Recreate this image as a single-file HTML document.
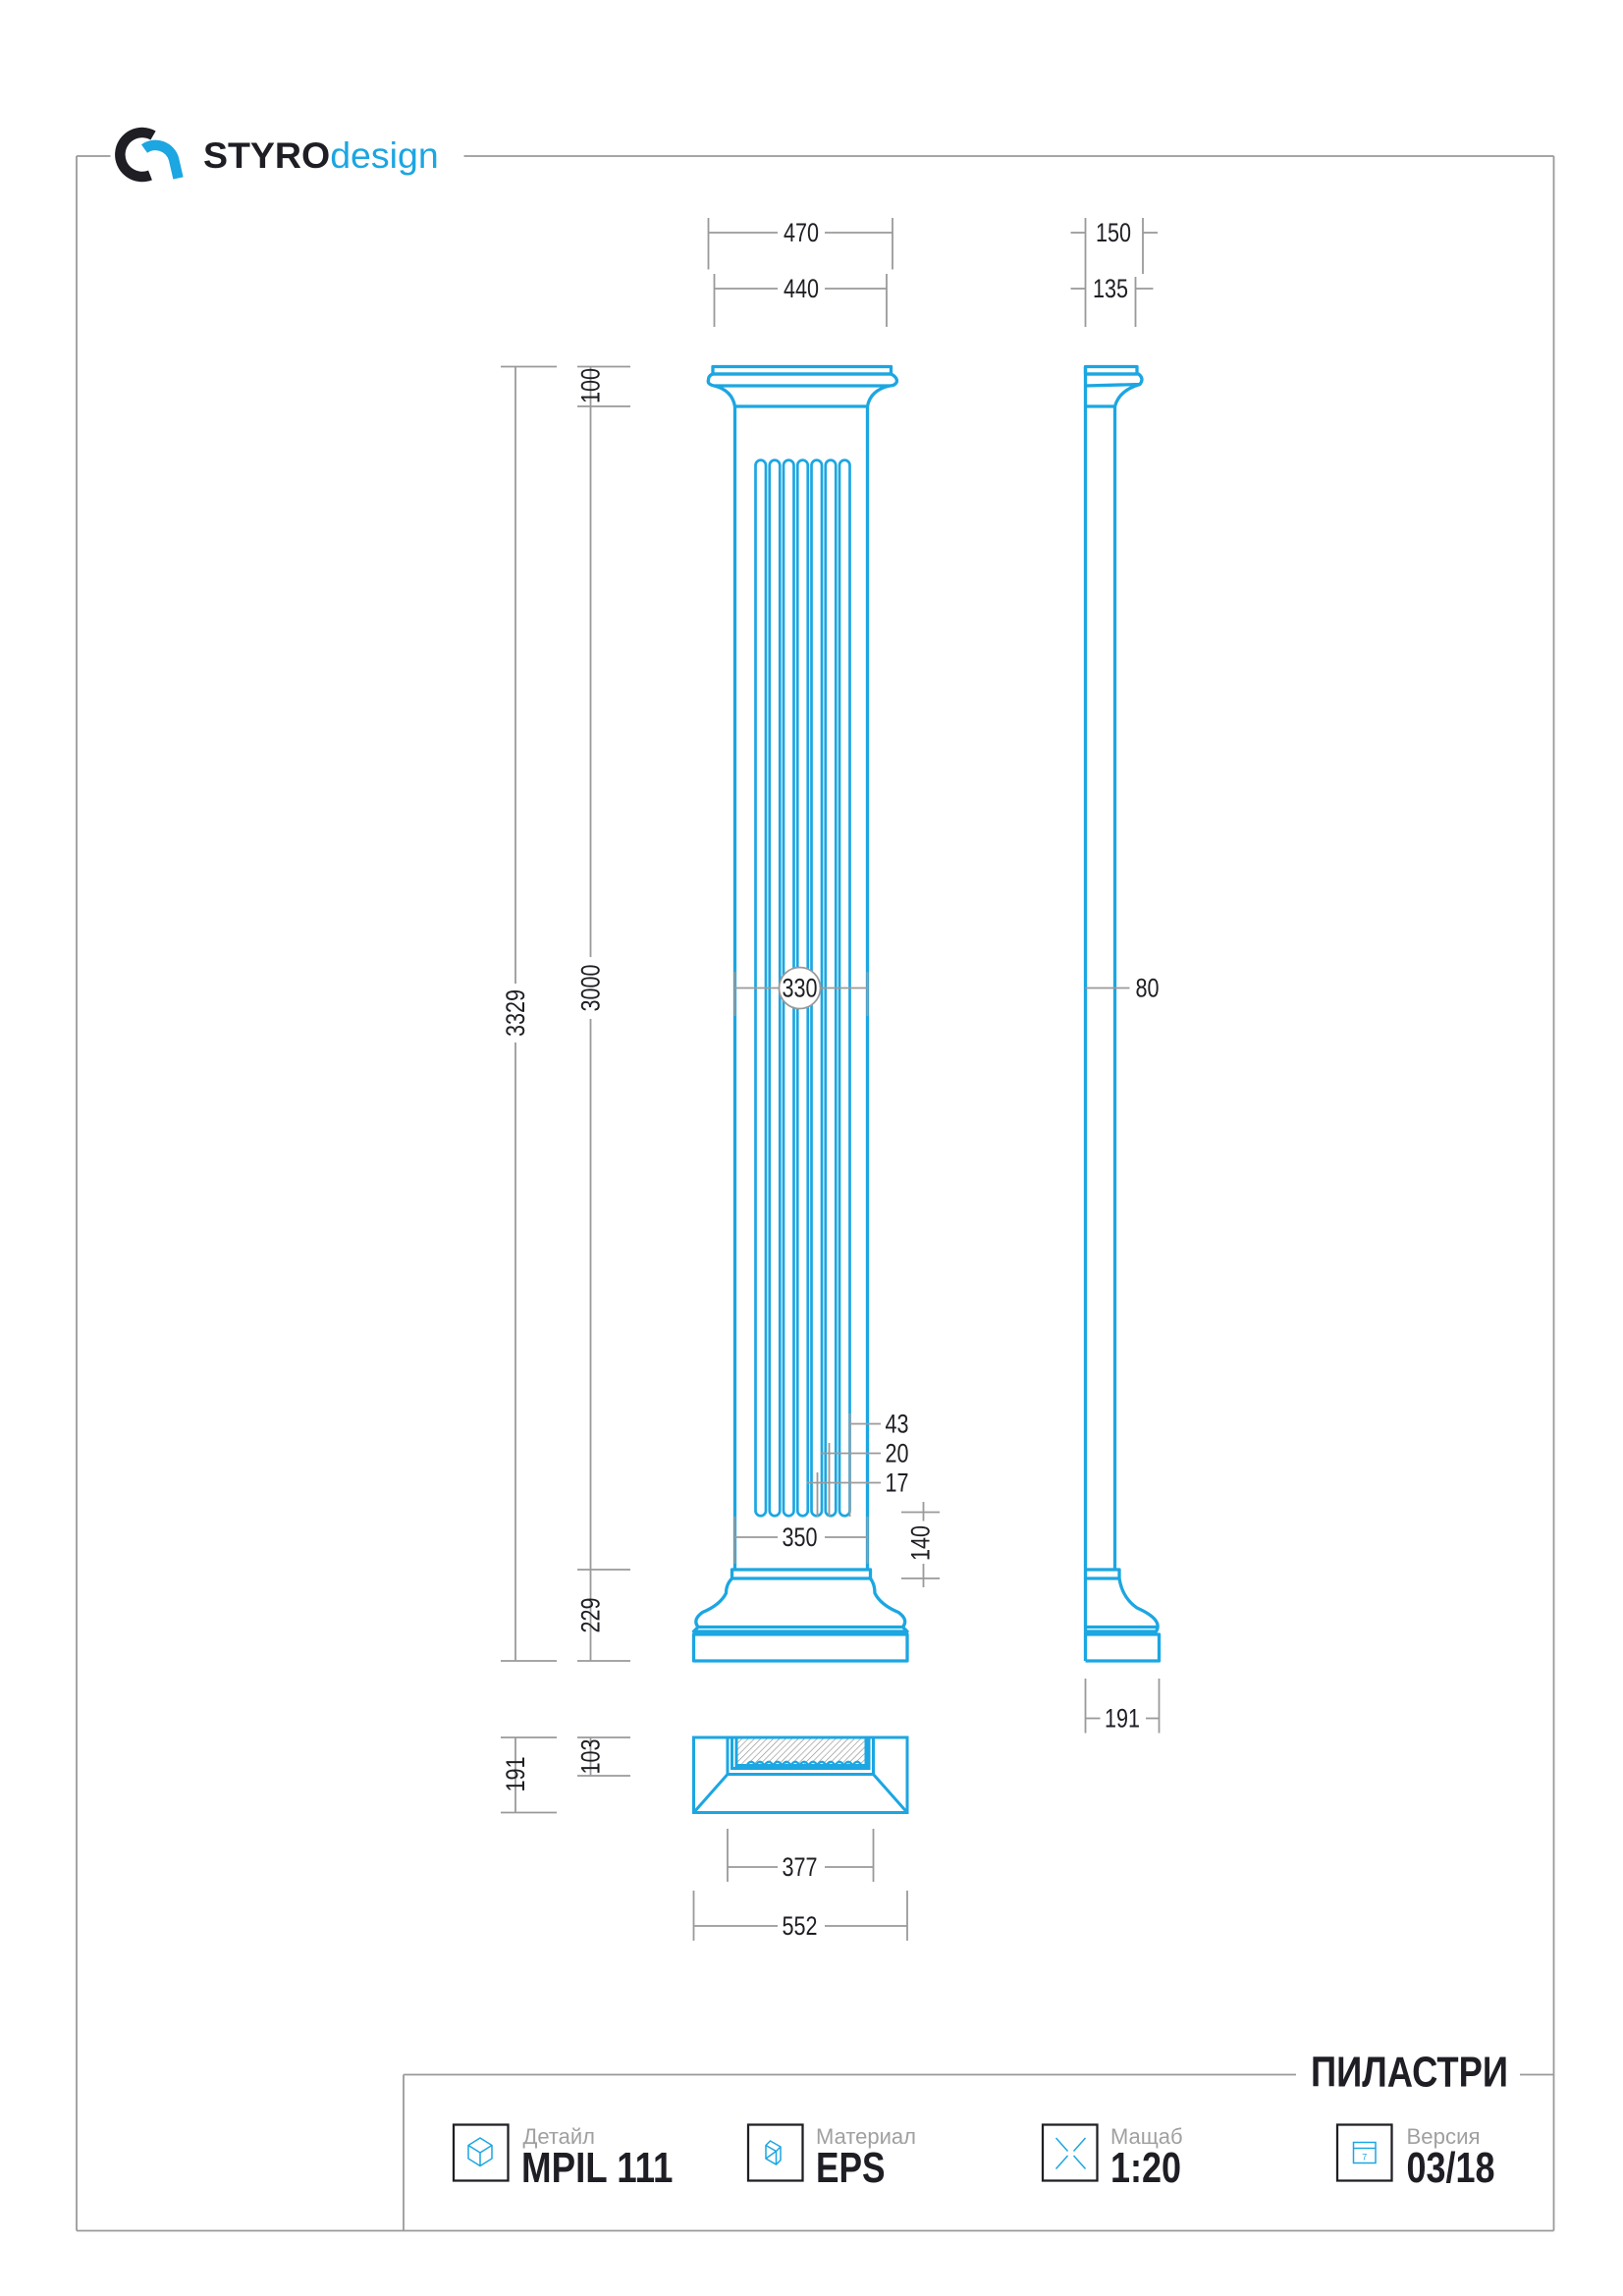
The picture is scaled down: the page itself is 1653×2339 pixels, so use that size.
<!DOCTYPE html>
<html><head><meta charset="utf-8"><style>
html,body{margin:0;padding:0;background:#fff}
svg{display:block}
text{font-family:"Liberation Sans",sans-serif}
</style></head><body>
<svg width="1653" height="2339" viewBox="0 0 1102 1559.33" xmlns="http://www.w3.org/2000/svg">
<defs>
<pattern id="h" width="3" height="3" patternUnits="userSpaceOnUse" patternTransform="rotate(45)">
<line x1="0" y1="0" x2="0" y2="3" stroke="#888" stroke-width="0.8"/></pattern>
</defs>
<g stroke="#9a9a9a" stroke-width="1.2" fill="none">
<line x1="52" y1="106" x2="75" y2="106"/>
<line x1="315" y1="106" x2="1055" y2="106"/>
<line x1="52" y1="106" x2="52" y2="1515"/>
<line x1="1055" y1="106" x2="1055" y2="1515"/>
<line x1="52" y1="1515" x2="1055" y2="1515"/>
<line x1="274" y1="1409" x2="880" y2="1409"/>
<line x1="1032" y1="1409" x2="1055" y2="1409"/>
<line x1="274" y1="1409" x2="274" y2="1515"/>
</g>
<path d="M104 92 A15 15 0 1 0 102 119" stroke="#1e1e24" stroke-width="7" fill="none"/>
<path d="M98 101 A13 13 0 0 1 118 108 L121 121" stroke="#1ca6e2" stroke-width="7" fill="none"/>
<text x="138" y="114" font-size="25" font-weight="bold" fill="#1e1e24">STYRO<tspan font-weight="normal" fill="#1ca6e2">design</tspan></text>

<g stroke="#1ca6e2" stroke-width="2.2" fill="none" stroke-linejoin="round">
<rect x="484" y="249" width="121" height="5"/>
<path d="M484 254 L605 254 Q609 256 609 259 Q608 262 604 262 L485 262 Q480 261 481 258 Q481 255 484 254 Z"/>
<path d="M485 262 Q497 265 499 276 L589 276 Q591 265 604 262"/>
<line x1="499" y1="276" x2="499" y2="1066"/>
<line x1="589" y1="276" x2="589" y2="1066"/>
<path d="M497 1066 L591 1066 L591 1072 L497 1072 Z"/>
<path d="M497 1072 Q493 1076 493 1082 Q489 1090 477 1095 Q470 1100 474 1105 L471 1108 L616 1108 L613 1105 Q617 1100 610 1095 Q598 1090 594 1082 Q594 1076 591 1072"/>
<rect x="471" y="1110" width="145" height="18"/>
<line x1="473" y1="1105" x2="614" y2="1105"/>
</g>
<g stroke="#1ca6e2" stroke-width="1.8" fill="none">
<path d="M513 1026 V316 a3.5 3.5 0 0 1 7 0 V1026 a3.5 3.5 0 0 1 -7 0"/>
<path d="M522.5 1026 V316 a3.5 3.5 0 0 1 7 0 V1026 a3.5 3.5 0 0 1 -7 0"/>
<path d="M532 1026 V316 a3.5 3.5 0 0 1 7 0 V1026 a3.5 3.5 0 0 1 -7 0"/>
<path d="M541.5 1026 V316 a3.5 3.5 0 0 1 7 0 V1026 a3.5 3.5 0 0 1 -7 0"/>
<path d="M551 1026 V316 a3.5 3.5 0 0 1 7 0 V1026 a3.5 3.5 0 0 1 -7 0"/>
<path d="M560.5 1026 V316 a3.5 3.5 0 0 1 7 0 V1026 a3.5 3.5 0 0 1 -7 0"/>
<path d="M570 1026 V316 a3.5 3.5 0 0 1 7 0 V1026 a3.5 3.5 0 0 1 -7 0"/>
</g>
<g stroke="#1ca6e2" stroke-width="2.2" fill="none" stroke-linejoin="round">
<rect x="737" y="249" width="35" height="5"/>
<path d="M737 254 L773 254 Q777 257 774 261 L737 262"/>
<path d="M774 261 Q760 265 757 276 L737 276"/>
<line x1="737" y1="249" x2="737" y2="1128"/>
<line x1="757" y1="276" x2="757" y2="1066"/>
<path d="M737 1066 L760 1066 L760 1072 L737 1072"/>
<path d="M760 1072 Q762 1085 772 1092 Q790 1100 785 1108 L737 1108"/>
<path d="M737 1110 L787 1110 L787 1128 L737 1128"/>
<line x1="737" y1="1105" x2="785" y2="1105"/>
</g>
<rect x="500" y="1181" width="88" height="21" fill="url(#h)"/>
<g stroke="#1ca6e2" stroke-width="2" fill="none">
<rect x="471" y="1180" width="145" height="51"/>
<path d="M494 1180 V1205 H593 V1180"/>
<path d="M497 1180 V1201 H590 V1180"/>
<path d="M500 1180 V1199 H588 V1180"/>
<line x1="471" y1="1231" x2="494" y2="1205"/>
<line x1="616" y1="1231" x2="593" y2="1205"/>
<path d="M507 1199 q3 -5 6 0 q3 -5 6 0 q3 -5 6 0 q3 -5 6 0 q3 -5 6 0 q3 -5 6 0 q3 -5 6 0 q3 -5 6 0 q3 -5 6 0 q3 -5 6 0 q3 -5 6 0 q3 -5 6 0 q3 -5 6 0" stroke-width="1.5"/>
</g>

<g stroke="#9a9a9a" stroke-width="1.2" fill="none">
<line x1="481" y1="148" x2="481" y2="183"/><line x1="606" y1="148" x2="606" y2="183"/>
<line x1="481" y1="158" x2="528" y2="158"/><line x1="560" y1="158" x2="606" y2="158"/>
<line x1="485" y1="186" x2="485" y2="222"/><line x1="602" y1="186" x2="602" y2="222"/>
<line x1="485" y1="196" x2="528" y2="196"/><line x1="560" y1="196" x2="602" y2="196"/>
<line x1="737" y1="148" x2="737" y2="222"/><line x1="776" y1="148" x2="776" y2="186"/>
<line x1="727" y1="158" x2="737" y2="158"/><line x1="776" y1="158" x2="786" y2="158"/>
<line x1="771" y1="188" x2="771" y2="222"/>
<line x1="727" y1="196" x2="737" y2="196"/><line x1="771" y1="196" x2="783" y2="196"/>
<line x1="340" y1="249" x2="378" y2="249"/><line x1="340" y1="1128" x2="378" y2="1128"/>
<line x1="350" y1="249" x2="350" y2="668"/><line x1="350" y1="708" x2="350" y2="1128"/>
<line x1="392" y1="249" x2="428" y2="249"/><line x1="392" y1="276" x2="428" y2="276"/>
<line x1="392" y1="1066" x2="428" y2="1066"/><line x1="392" y1="1128" x2="428" y2="1128"/>
<line x1="401" y1="249" x2="401" y2="650"/><line x1="401" y1="692" x2="401" y2="1128"/>
<line x1="340" y1="1180" x2="378" y2="1180"/><line x1="340" y1="1231" x2="378" y2="1231"/>
<line x1="350" y1="1180" x2="350" y2="1231"/>
<line x1="392" y1="1180" x2="428" y2="1180"/><line x1="392" y1="1206" x2="428" y2="1206"/>
<line x1="401" y1="1180" x2="401" y2="1206"/>
<line x1="494" y1="1242" x2="494" y2="1278"/><line x1="593" y1="1242" x2="593" y2="1278"/>
<line x1="494" y1="1268" x2="528" y2="1268"/><line x1="560" y1="1268" x2="593" y2="1268"/>
<line x1="471" y1="1284" x2="471" y2="1318"/><line x1="616" y1="1284" x2="616" y2="1318"/>
<line x1="471" y1="1308" x2="528" y2="1308"/><line x1="560" y1="1308" x2="616" y2="1308"/>
<line x1="737" y1="1140" x2="737" y2="1177"/><line x1="787" y1="1140" x2="787" y2="1177"/>
<line x1="737" y1="1167" x2="747" y2="1167"/><line x1="778" y1="1167" x2="787" y2="1167"/>
<line x1="499" y1="671" x2="529" y2="671"/><line x1="557" y1="671" x2="589" y2="671"/>
<line x1="499" y1="660" x2="499" y2="690"/><line x1="589" y1="660" x2="589" y2="690"/>
<line x1="737" y1="671" x2="767" y2="671"/>
<line x1="577" y1="967" x2="598" y2="967"/><line x1="557" y1="987" x2="598" y2="987"/><line x1="548" y1="1007" x2="598" y2="1007"/>
<line x1="577" y1="960" x2="577" y2="1030"/><line x1="563" y1="980" x2="563" y2="1030"/><line x1="555" y1="1000" x2="555" y2="1030"/>
<line x1="499" y1="1030" x2="499" y2="1062"/><line x1="589" y1="1030" x2="589" y2="1062"/>
<line x1="499" y1="1044" x2="528" y2="1044"/><line x1="560" y1="1044" x2="589" y2="1044"/>
<line x1="612" y1="1027" x2="638" y2="1027"/><line x1="612" y1="1072" x2="638" y2="1072"/>
<line x1="627" y1="1020" x2="627" y2="1033"/><line x1="627" y1="1062" x2="627" y2="1078"/>
</g>
<circle cx="543" cy="671" r="14" fill="#fff" stroke="#9a9a9a" stroke-width="1.2"/>
<g font-size="18" fill="#1e1e24" text-anchor="middle" lengthAdjust="spacingAndGlyphs">
<text x="544" y="164" textLength="24" lengthAdjust="spacingAndGlyphs">470</text>
<text x="544" y="202" textLength="24" lengthAdjust="spacingAndGlyphs">440</text>
<text x="756" y="164" textLength="24" lengthAdjust="spacingAndGlyphs">150</text>
<text x="754" y="202" textLength="24" lengthAdjust="spacingAndGlyphs">135</text>
<text x="543" y="677" textLength="24" lengthAdjust="spacingAndGlyphs">330</text>
<text x="779" y="677" textLength="16" lengthAdjust="spacingAndGlyphs">80</text>
<text x="609" y="973" textLength="16" lengthAdjust="spacingAndGlyphs">43</text>
<text x="609" y="993" textLength="16" lengthAdjust="spacingAndGlyphs">20</text>
<text x="609" y="1013" textLength="16" lengthAdjust="spacingAndGlyphs">17</text>
<text x="543" y="1050" textLength="24" lengthAdjust="spacingAndGlyphs">350</text>
<text x="543" y="1274" textLength="24" lengthAdjust="spacingAndGlyphs">377</text>
<text x="543" y="1314" textLength="24" lengthAdjust="spacingAndGlyphs">552</text>
<text x="762" y="1173" textLength="24" lengthAdjust="spacingAndGlyphs">191</text>
<text transform="translate(356 688) rotate(-90)" textLength="32" lengthAdjust="spacingAndGlyphs">3329</text>
<text transform="translate(407 671) rotate(-90)" textLength="32" lengthAdjust="spacingAndGlyphs">3000</text>
<text transform="translate(407 262) rotate(-90)" textLength="24" lengthAdjust="spacingAndGlyphs">100</text>
<text transform="translate(407 1097) rotate(-90)" textLength="24" lengthAdjust="spacingAndGlyphs">229</text>
<text transform="translate(356 1205) rotate(-90)" textLength="24" lengthAdjust="spacingAndGlyphs">191</text>
<text transform="translate(407 1193) rotate(-90)" textLength="24" lengthAdjust="spacingAndGlyphs">103</text>
<text transform="translate(631 1048) rotate(-90)" textLength="24" lengthAdjust="spacingAndGlyphs">140</text>
</g>

<text x="890" y="1417" font-size="29" font-weight="bold" fill="#1e1e24" textLength="134" lengthAdjust="spacingAndGlyphs">ПИЛАСТРИ</text>
<g stroke="#1e1e24" stroke-width="1.5" fill="none">
<rect x="308" y="1443" width="37" height="38"/>
<rect x="508" y="1443" width="37" height="38"/>
<rect x="708" y="1443" width="37" height="38"/>
<rect x="908" y="1443" width="37" height="38"/>
</g>
<g stroke="#1ca6e2" stroke-width="1" fill="none">
<path d="M326 1452 l8 5 v9 l-8 5 l-8 -5 v-9 z M318 1457 l8 5 l8 -5 M326 1462 v9"/>
<path d="M523 1454 l7 4 v9 l-3 3 l-7 -4 v-9 z M520 1457 l7 4 l3 -3 M527 1461 v9 M520 1466 l7 -5"/>
<path d="M717 1452 l8 9 M737 1452 l-8 9 M717 1473 l8 -9 M737 1473 l-8 -9"/>
<rect x="919" y="1455" width="15" height="14"/><line x1="919" y1="1459" x2="934" y2="1459"/>
</g>
<text x="926.5" y="1467" font-size="6" fill="#1ca6e2" text-anchor="middle">7</text>
<g font-size="15" fill="#a0a0a0">
<text x="355" y="1456" textLength="49" lengthAdjust="spacingAndGlyphs">Детайл</text>
<text x="554" y="1456" textLength="68" lengthAdjust="spacingAndGlyphs">Материал</text>
<text x="754" y="1456" textLength="49" lengthAdjust="spacingAndGlyphs">Мащаб</text>
<text x="955" y="1456" textLength="50" lengthAdjust="spacingAndGlyphs">Версия</text>
</g>
<g font-size="29" font-weight="bold" fill="#1e1e24">
<text x="354" y="1482" textLength="103" lengthAdjust="spacingAndGlyphs">MPIL 111</text>
<text x="554" y="1482" textLength="47" lengthAdjust="spacingAndGlyphs">EPS</text>
<text x="754" y="1482" textLength="48" lengthAdjust="spacingAndGlyphs">1:20</text>
<text x="955" y="1482" textLength="60" lengthAdjust="spacingAndGlyphs">03/18</text>
</g>
</svg>
</body></html>
